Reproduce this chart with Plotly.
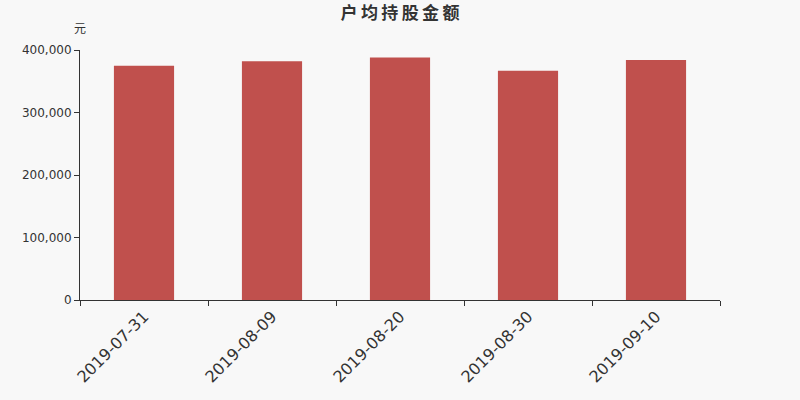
import plotly.graph_objects as go

dates = ["2019-07-31", "2019-08-09", "2019-08-20", "2019-08-30", "2019-09-10"]
avg_amount = [375000, 382000, 388000, 367000, 384000]   # 户均持股金额 (元)
y_ticks = [0, 100000, 200000, 300000, 400000]
y_tick_text = ["0", "100,000", "200,000", "300,000", "400,000"]
title = "户均持股金额"

BG = "#f8f8f8"
AXIS = "#333333"

fig = go.Figure()
fig.add_trace(go.Bar(x=dates, y=avg_amount, marker_color="#c0504d",
                     marker_line_width=0, width=0.47))

fig.update_layout(
    width=800, height=400,
    paper_bgcolor=BG, plot_bgcolor=BG,
    margin=dict(l=80, r=80, t=50, b=100),
    showlegend=False,
    font=dict(family="Noto Sans CJK SC, DejaVu Sans, sans-serif", color=AXIS),
    # thin spaces between the characters to get the wider letter spacing of the original
    title=dict(text="<b>" + "\u2009".join(title) + "</b>", x=0.5, xanchor="center",
               y=0.9675, yanchor="middle", font=dict(size=17, color=AXIS)),
)
fig.update_xaxes(type="category", showline=True, linecolor=AXIS, linewidth=1,
                 ticks="outside", tickson="boundaries", ticklen=5, tickcolor=AXIS,
                 tickangle=-45, tickfont=dict(size=16, family="DejaVu Sans", color=AXIS),
                 showgrid=False, fixedrange=True)
fig.update_yaxes(range=[0, 400000], tickvals=y_ticks, ticktext=y_tick_text,
                 showline=True, linecolor=AXIS, linewidth=1,
                 ticks="outside", ticklen=5, tickcolor=AXIS,
                 tickfont=dict(size=12, family="DejaVu Sans", color=AXIS),
                 showgrid=False, zeroline=False)
fig.add_annotation(text="元", xref="paper", yref="paper", x=0, y=1,
                   xanchor="center", yanchor="bottom", yshift=12, showarrow=False,
                   font=dict(size=12, color=AXIS))

# page body has a default margin; drop it so the chart fills the window
fig.write_html("out.html", config={"displayModeBar": False},
               post_script="document.body.style.margin='0';")
